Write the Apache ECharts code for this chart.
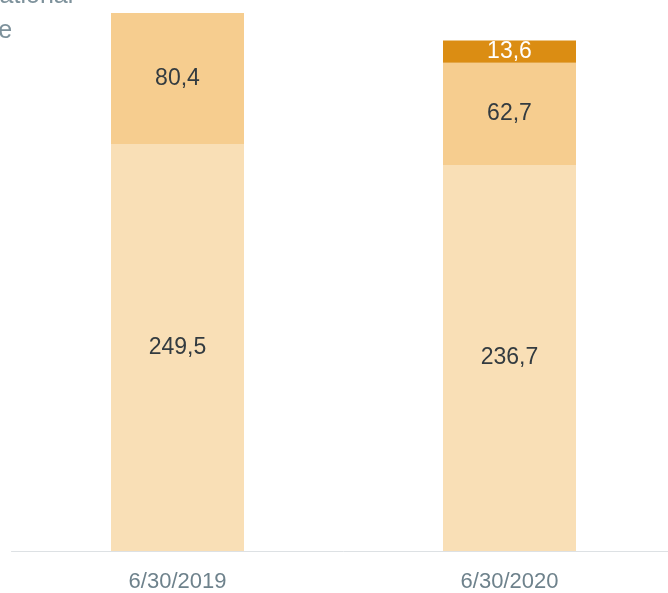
<!DOCTYPE html>
<html>
<head>
<meta charset="utf-8">
<script src="https://cdn.jsdelivr.net/npm/echarts@6/dist/echarts.min.js"></script>
<style>html,body{margin:0;padding:0;background:#fff;overflow:hidden}</style>
</head>
<body>
<!-- chart is a little wider than the window: the plot runs past the right edge -->
<div id="main" style="width:680px;height:593px;"></div>
<script>
// data
var categories = ['6/30/2019', '6/30/2020'];
var baseValues = [249.5, 236.7];
var midValues = [80.4, 62.7];
var topValues = [null, 13.6];

function fmt(p) {
    return p.value == null ? '' : String(p.value).replace('.', ',');
}

var labelFont = 'Liberation Sans';

var myChart = echarts.init(document.getElementById('main'));

var option = {
    animation: false,
    grid: { left: 11.5, right: 4.5, top: 13, bottom: 38 },
    xAxis: {
        type: 'category',
        data: categories,
        axisLine: { lineStyle: { color: '#dde1e4', width: 1 } },
        axisTick: { show: false },
        axisLabel: { color: '#6e828c', fontSize: 22, margin: 20, fontFamily: labelFont }
    },
    yAxis: {
        type: 'value',
        min: 0,
        max: 329.9,
        show: false
    },
    graphic: [{
        type: 'text',
        x: -56,
        y: -21,
        style: {
            text: 'Operational\nLease',
            fill: '#7d919b',
            font: '25px "Liberation Sans"',
            lineHeight: 35,
            verticalAlign: 'top'
        }
    }],
    series: [{
        type: 'bar',
        stack: 'a',
        barWidth: 133,
        data: baseValues,
        itemStyle: { color: '#f9dfb6' },
        label: { show: true, position: 'inside', color: '#333b40', fontSize: 23, fontFamily: labelFont, formatter: fmt }
    }, {
        type: 'bar',
        stack: 'a',
        data: midValues,
        itemStyle: { color: '#f6cd8f' },
        label: { show: true, position: 'inside', color: '#333b40', fontSize: 23, fontFamily: labelFont, formatter: fmt }
    }, {
        type: 'bar',
        stack: 'a',
        data: topValues,
        itemStyle: { color: '#db8d13' },
        label: { show: true, position: 'inside', color: '#fff', fontSize: 23, fontFamily: labelFont, formatter: fmt }
    }]
};
myChart.setOption(option);
</script>
</body>
</html>
